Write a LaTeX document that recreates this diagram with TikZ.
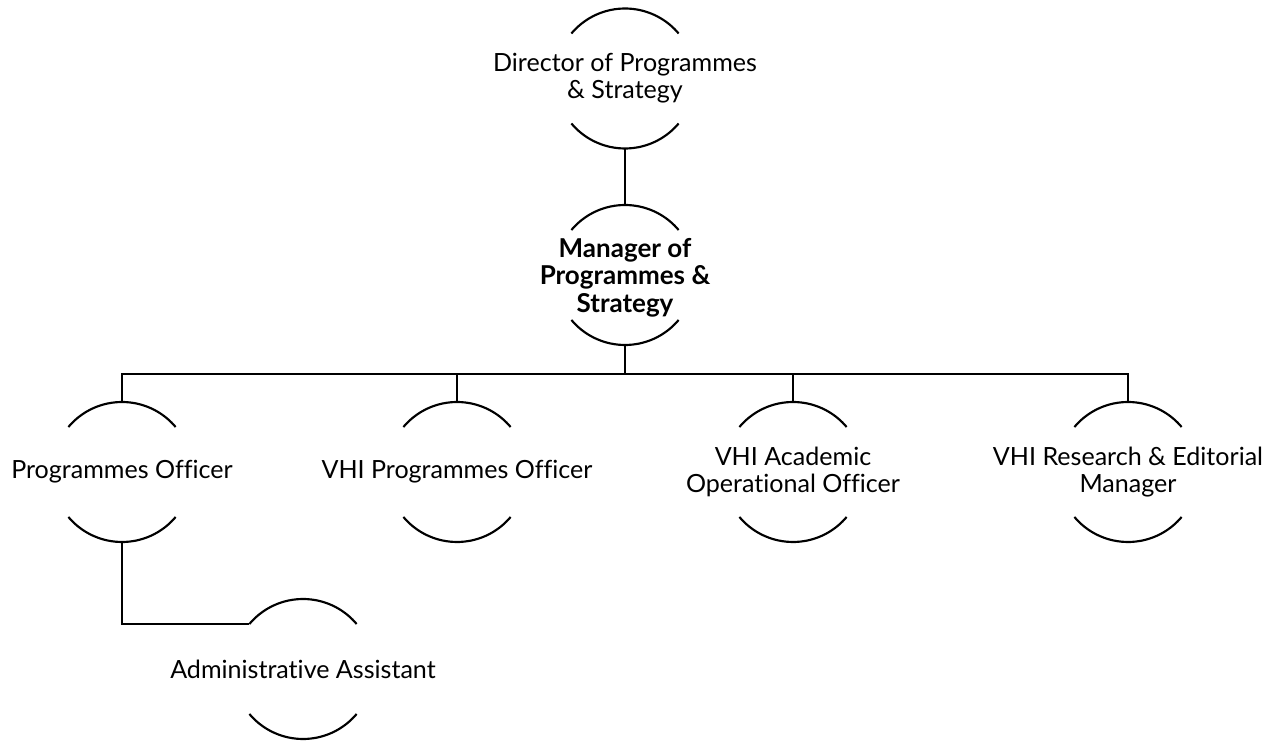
\documentclass[tikz,border=0pt]{standalone}
\usepackage{fontspec}
\setmainfont{Lato}[Ligatures=NoCommon]
\begin{document}
\begin{tikzpicture}[x=0.75pt,y=0.75pt,
  ring/.style={circle,minimum size=105pt,inner sep=0pt,outer sep=0pt,draw=none},
  lbl/.style={align=center,inner sep=0pt,font=\fontsize{18.8pt}{20.4pt}\selectfont},
  conn/.style={line width=1.6pt,black}]
\useasboundingbox (0,0) rectangle (1281,742);
\fill[white] (0,0) rectangle (1281,742);
% rings
\node[ring] (dir) at (625,663.5) {};
\node[ring] (mgr) at (625,467) {};
\node[ring] (po)  at (122,270) {};
\node[ring] (vpo) at (457,270) {};
\node[ring] (vac) at (793,270) {};
\node[ring] (vre) at (1128,270) {};
\node[ring] (adm) at (303,73) {};
% labels
\node[lbl] (tdir) at (dir.center) {Director of Programmes\\\& Strategy};
\node[lbl,font=\fontsize{19.5pt}{20.6pt}\selectfont\bfseries] (tmgr) at ([yshift=-2]mgr.center) {Manager of\\Programmes \&\\Strategy};
\node[lbl] (tpo) at (po.center) {Programmes Officer};
\node[lbl] (tvpo) at (vpo.center) {VHI Programmes Officer};
\node[lbl] (tvac) at (vac.center) {VHI Academic\\Operational Officer};
\node[lbl] (tvre) at (vre.center) {VHI Research \& Editorial\\Manager};
\node[lbl] (tadm) at (adm.center) {Administrative Assistant};
% arcs
\foreach \n in {dir,mgr,po,vpo,vac,vre,adm}{
  \draw[conn] (\n.140) arc[start angle=140,end angle=40,radius=52.5pt];
  \draw[conn] (\n.220) arc[start angle=220,end angle=320,radius=52.5pt];
}
% connectors
\coordinate (bus) at (625,368);
\draw[conn] (dir.south) -- (mgr.north);
\draw[conn] (mgr.south) -- (bus);
\foreach \n in {po,vpo,vac,vre}{
  \draw[conn] (\n.north) |- (bus);
}
\draw[conn] (po.south) |- (adm.140);
\end{tikzpicture}
\end{document}
